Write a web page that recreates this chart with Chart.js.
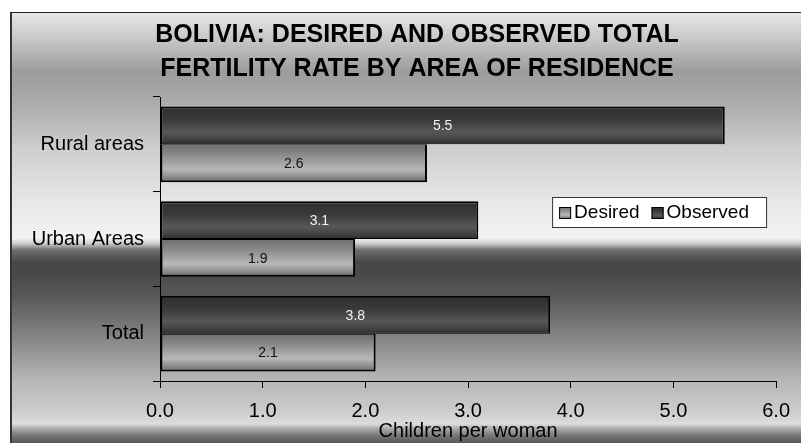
<!DOCTYPE html>
<html>
<head>
<meta charset="utf-8">
<title>Bolivia fertility</title>
<script src="https://cdn.jsdelivr.net/npm/chart.js@4/dist/chart.umd.min.js"></script>
<style>
  html, body { margin: 0; padding: 0; background: #fff; overflow: hidden; }
  #wrap { position: relative; width: 801px; height: 443px; }
</style>
</head>
<body>
<div id="wrap"><canvas id="chart"></canvas></div>
<script>
  const titleLines = ["BOLIVIA: DESIRED AND OBSERVED TOTAL", "FERTILITY RATE BY AREA OF RESIDENCE"];
  const categories = ["Rural areas", "Urban Areas", "Total"];
  const observed = [5.5, 3.1, 3.8];
  const desired = [2.6, 1.9, 2.1];
  const axisTitle = "Children per woman";
  const xMin = 0;
  const xMax = 6;

  const FONT = "'Liberation Sans', Arial, sans-serif";

  const darkStops = [[0, "#2f2f2f"], [0.35, "#3a3a3a"], [0.68, "#575757"], [0.85, "#444"], [1, "#2c2c2c"]];
  const lightStops = [[0, "#6c6c6c"], [0.3, "#8c8c8c"], [0.66, "#b8b8b8"], [0.85, "#8e8e8e"], [1, "#6a6a6a"]];

  const bgStops = [
    [13, "#e6e6e6"], [40, "#c6c6c6"], [72, "#9c9c9c"], [110, "#b0b0b0"],
    [150, "#cfcfcf"], [200, "#e6e6e6"], [238, "#f3f3f3"], [243, "#d2d2d2"],
    [250, "#707070"], [262, "#474747"], [276, "#4a4a4a"], [300, "#5c5c5c"],
    [340, "#888888"], [380, "#b6b6b6"], [410, "#cbcbcb"], [424, "#dcdcdc"],
    [428, "#b0b0b0"], [435, "#7a7a7a"], [443, "#555555"]
  ];

  function barFill(stops) {
    return ctx => {
      const { chart, dataIndex, datasetIndex } = ctx;
      const y = chart.scales && chart.scales.y;
      if (!chart.chartArea || !y || dataIndex === undefined) return stops[2][1];
      const band = (y.bottom - y.top) / categories.length;
      const centre = y.getPixelForValue(dataIndex);
      const thick = band * 0.4;
      const top = datasetIndex === 0 ? centre - thick : centre;
      const g = chart.ctx.createLinearGradient(0, top, 0, top + thick);
      stops.forEach(([o, c]) => g.addColorStop(o, c));
      return g;
    };
  }

  const backdrop = {
    id: "backdrop",
    beforeDraw(chart) {
      const { ctx, width, height } = chart;
      ctx.save();
      ctx.fillStyle = "#fff";
      ctx.fillRect(0, 0, width, height);
      const g = ctx.createLinearGradient(0, 13, 0, height);
      bgStops.forEach(([y, c]) => g.addColorStop((y - 13) / (height - 13), c));
      ctx.fillStyle = g;
      ctx.fillRect(10, 13, width - 10, height - 13);
      ctx.fillStyle = "#333";
      ctx.fillRect(10, 13, 2, height - 13);
      ctx.fillStyle = "#222";
      ctx.fillRect(10, 12, width - 10, 1);
      ctx.restore();
    }
  };

  const valueLabels = {
    id: "valueLabels",
    afterDatasetsDraw(chart) {
      const { ctx } = chart;
      ctx.save();
      ctx.font = `14px ${FONT}`;
      ctx.textAlign = "center";
      ctx.textBaseline = "middle";
      chart.data.datasets.forEach((ds, i) => {
        ctx.fillStyle = i === 0 ? "#f2f2f2" : "#111";
        chart.getDatasetMeta(i).data.forEach((bar, j) => {
          ctx.fillText(ds.data[j].toFixed(1), (bar.x + bar.base) / 2, bar.y + 1);
        });
      });
      ctx.restore();
    }
  };

  const boxLegend = {
    id: "boxLegend",
    afterDraw(chart) {
      const { ctx, chartArea } = chart;
      const left = chartArea.right - 224;
      const top = chartArea.top + 100;
      ctx.save();
      ctx.fillStyle = "#fff";
      ctx.fillRect(left, top, 215, 31);
      ctx.strokeStyle = "#333";
      ctx.lineWidth = 1;
      ctx.strokeRect(left + 0.5, top + 0.5, 214, 30);
      ctx.font = `19px ${FONT}`;
      ctx.textBaseline = "middle";
      let x = left + 7;
      // legend lists Desired first, the reverse of dataset order
      [1, 0].forEach(i => {
        const ds = chart.data.datasets[i];
        const stops = i === 0 ? darkStops : lightStops;
        const g = ctx.createLinearGradient(0, top + 10, 0, top + 22);
        stops.forEach(([o, c]) => g.addColorStop(o, c));
        ctx.fillStyle = g;
        ctx.fillRect(x, top + 10, 12, 12);
        ctx.strokeStyle = "#000";
        ctx.strokeRect(x + 0.5, top + 10.5, 11, 11);
        ctx.fillStyle = "#000";
        ctx.fillText(ds.label, x + 15, top + 16);
        x += 15 + ctx.measureText(ds.label).width + 12;
      });
      ctx.restore();
    }
  };

  new Chart(document.getElementById("chart"), {
    type: "bar",
    data: {
      labels: categories,
      datasets: [
        {
          label: "Observed",
          data: observed,
          backgroundColor: barFill(darkStops),
          borderColor: "#000",
          borderWidth: { top: 2, bottom: 1, left: 2, right: 2 },
          borderSkipped: false
        },
        {
          label: "Desired",
          data: desired,
          backgroundColor: barFill(lightStops),
          borderColor: "#000",
          borderWidth: { top: 1, bottom: 2, left: 2, right: 2 },
          borderSkipped: false
        }
      ]
    },
    options: {
      indexAxis: "y",
      responsive: true,
      maintainAspectRatio: false,
      animation: false,
      categoryPercentage: 0.8,
      barPercentage: 1.0,
      layout: {
        padding: { top: 13, left: 33, right: 0, bottom: 0 }
      },
      plugins: {
        legend: { display: false },
        tooltip: { enabled: false },
        title: {
          display: true,
          text: titleLines,
          color: "#000",
          font: { family: FONT, size: 25, weight: "bold", lineHeight: "34px" },
          padding: { top: 5, bottom: 11 }
        }
      },
      scales: {
        x: {
          min: xMin,
          max: xMax,
          afterFit(scale) { scale.height = 62; },
          ticks: {
            stepSize: 1,
            color: "#000",
            padding: 11,
            maxRotation: 0,
            font: { family: FONT, size: 20 },
            callback: v => Number(v).toFixed(1)
          },
          grid: { drawOnChartArea: false, tickLength: 7, color: "#000" },
          border: { color: "#000", width: 1 },
          title: {
            display: true,
            text: axisTitle,
            color: "#000",
            font: { family: FONT, size: 20, lineHeight: 1.2 },
            padding: { top: 0, bottom: 0 }
          }
        },
        y: {
          afterFit(scale) { scale.width = 127; },
          ticks: {
            color: "#000",
            padding: 9,
            font: { family: FONT, size: 20 }
          },
          grid: { drawOnChartArea: false, tickLength: 7, color: "#000" },
          border: { color: "#000", width: 1 }
        },
        // empty right-hand strip so the plot ends at 6.0 while the title stays centred
        gap: {
          type: "category",
          axis: "y",
          position: "right",
          labels: [""],
          afterFit(scale) { scale.width = 24; },
          ticks: { display: false },
          grid: { display: false },
          border: { display: false }
        }
      }
    },
    plugins: [backdrop, valueLabels, boxLegend]
  });
</script>
</body>
</html>
